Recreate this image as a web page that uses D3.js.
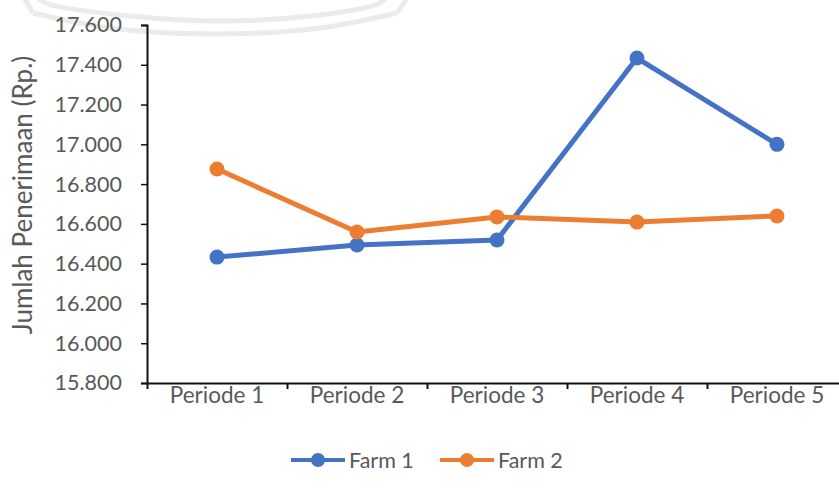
<!DOCTYPE html>
<html>
<head>
<meta charset="utf-8">
<script src="https://cdn.jsdelivr.net/npm/d3@7"></script>
<style>
  body { margin: 0; background: #fff; }
  svg { display: block; }
  text { font-family: Lato, "Open Sans", sans-serif; fill: #595959; }
</style>
</head>
<body>
<svg id="chart" width="839" height="496"></svg>
<script>
// Revenue per period for each farm (Rp.)
const periods = ["Periode 1", "Periode 2", "Periode 3", "Periode 4", "Periode 5"];
const farm1 = [16433, 16494, 16519, 17434, 17000];
const farm2 = [16876, 16559, 16635, 16609, 16640];
const seriesNames = ["Farm 1", "Farm 2"];
const seriesColors = ["#4472C4", "#ED7D31"];
const yTicks = [15800, 16000, 16200, 16400, 16600, 16800, 17000, 17200, 17400, 17600];
const yTitle = "Jumlah Penerimaan (Rp.)";

const svg = d3.select("#chart");
const plot = { left: 147, right: 847, top: 25, bottom: 383 };

// Faint background emblem arcs at the top edge
const emblem = svg.append("g").attr("fill", "none").attr("stroke", "#ebebeb")
  .attr("stroke-width", 5).attr("stroke-linejoin", "round");
const arcLine = d3.line().curve(d3.curveCatmullRom);
emblem.append("path").attr("d", arcLine([[38, -2], [48, 4], [130, 16], [225, 21], [320, 15], [378, 4], [386, -2]]));
emblem.append("path").attr("d", d3.line()([[24, -2], [33, 13]]));
emblem.append("path").attr("d", arcLine([[33, 13], [110, 28], [215, 34], [320, 28], [397, 13]]));
emblem.append("path").attr("d", d3.line()([[397, 13], [407, -2]]));

const fmt = d3.formatLocale({ decimal: ",", thousands: ".", grouping: [3], currency: ["Rp", ""] }).format(",.0f");

const x = d3.scaleBand().domain(periods).range([plot.left, plot.right]).padding(0);
const xEdge = d3.scaleLinear().domain([0, periods.length]).range([plot.left, plot.right]);
const y = d3.scaleLinear().domain([15800, 17600]).range([plot.bottom, plot.top]);

// Y axis
const yAxis = svg.append("g")
  .attr("transform", `translate(${plot.left},0)`)
  .call(d3.axisLeft(y).tickValues(yTicks).tickSize(6).tickPadding(19).tickFormat(fmt));
yAxis.select(".domain").attr("stroke", "#111").attr("stroke-width", 2);
yAxis.selectAll(".tick line").attr("stroke", "#111").attr("stroke-width", 1.5);
yAxis.selectAll("text").attr("font-size", 21.5).attr("fill", "#595959");

// X axis: boundary ticks between categories
const xTickAxis = svg.append("g")
  .attr("transform", `translate(0,${plot.bottom})`)
  .call(d3.axisBottom(xEdge).tickValues(d3.range(periods.length + 1)).tickSize(6).tickSizeOuter(0).tickFormat(""));
xTickAxis.select(".domain").attr("stroke", "#111").attr("stroke-width", 2);
xTickAxis.selectAll(".tick line").attr("stroke", "#111").attr("stroke-width", 2);

// X axis category labels
const xLabelAxis = svg.append("g")
  .attr("transform", `translate(0,${plot.bottom})`)
  .call(d3.axisBottom(x).tickSize(0).tickPadding(4));
xLabelAxis.select(".domain").remove();
xLabelAxis.selectAll("text").attr("font-size", 22.5).attr("fill", "#595959");

// Y axis title
svg.append("text")
  .attr("transform", `translate(22,195) rotate(-90)`)
  .attr("text-anchor", "middle")
  .attr("dominant-baseline", "central")
  .attr("font-size", 26)
  .text(yTitle);

// Series lines and markers
const series = [farm1, farm2];
const line = d3.line()
  .x((d, i) => x(periods[i]) + x.bandwidth() / 2)
  .y(d => y(d));

series.forEach((vals, s) => {
  const g = svg.append("g");
  g.append("path")
    .attr("d", line(vals))
    .attr("fill", "none")
    .attr("stroke", seriesColors[s])
    .attr("stroke-width", 5)
    .attr("stroke-linejoin", "round");
  g.selectAll("circle").data(vals).join("circle")
    .attr("cx", (d, i) => x(periods[i]) + x.bandwidth() / 2)
    .attr("cy", d => y(d))
    .attr("r", 7.5)
    .attr("fill", seriesColors[s]);
});

// Legend
const legendX = [291, 440];
const legendY = 460;
seriesNames.forEach((name, s) => {
  const g = svg.append("g").attr("transform", `translate(${legendX[s]},${legendY})`);
  g.append("line").attr("x1", 0).attr("x2", 54).attr("y1", 0).attr("y2", 0)
    .attr("stroke", seriesColors[s]).attr("stroke-width", 4);
  g.append("circle").attr("cx", 27).attr("cy", 0).attr("r", 7).attr("fill", seriesColors[s]);
  g.append("text").attr("x", 58).attr("y", 0).attr("dominant-baseline", "central")
    .attr("font-size", 21.5).text(name);
});
</script>
</body>
</html>
